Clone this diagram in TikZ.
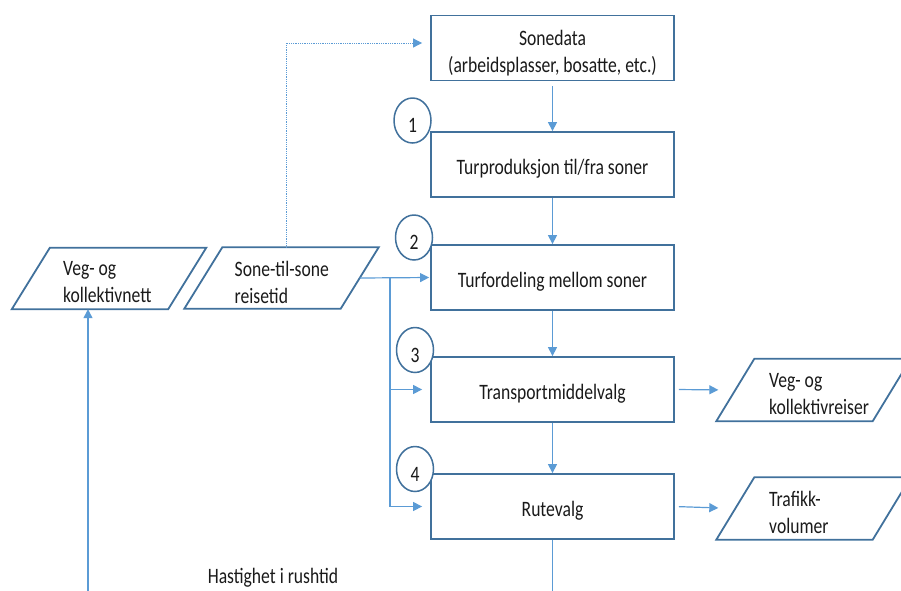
\documentclass[tikz,border=0pt]{standalone}
\usepackage{fontspec}
\setmainfont{Carlito}[FakeStretch=0.8]
\usetikzlibrary{arrows.meta,shapes.geometric}
\definecolor{boxblue}{HTML}{41719C}
\definecolor{linkblue}{HTML}{5B9BD5}
\definecolor{txt}{HTML}{1A1A1A}
\newcommand\iopath[1]{\draw[iodraw] ([xshift=-19pt]#1.south west) -- ([xshift=19pt]#1.north west) -- ([xshift=19pt]#1.north east) -- ([xshift=-19pt]#1.south east) -- cycle;}
\begin{document}
\begin{tikzpicture}[x=1pt,y=-1pt,
  every node/.style={font=\fontsize{22}{27}\selectfont, text=txt},
  stepbox/.style={draw=boxblue, line width=1.8pt, minimum width=243pt, minimum height=65pt, inner sep=0pt, fill=white},
  numcirc/.style={ellipse, draw=boxblue, line width=1.5pt, fill=white, minimum width=37pt, minimum height=45pt, inner sep=0pt},
  iobox/.style={rectangle, minimum width=156pt, minimum height=61pt, inner sep=0pt},
  iodraw/.style={draw=boxblue, line width=1.8pt, line join=miter},
  boxtext/.style={align=center, inner sep=0pt},
  iotext/.style={align=left, inner sep=0pt, anchor=west},
  link/.style={draw=linkblue, line width=1.2pt, -{Triangle[length=9pt,width=9pt]}},
  plainlink/.style={draw=linkblue, line width=1.2pt},
  ]
\useasboundingbox (0,0) rectangle (901,590);

% process boxes
\node[stepbox] (sd) at (552.5,48) {};
\node[stepbox] (b1) at (552.5,164.5) {};
\node[stepbox] (b2) at (552.5,277.5) {};
\node[stepbox] (b3) at (552.5,389.5) {};
\node[stepbox] (b4) at (552.5,506.5) {};
\node[boxtext] (tsd) at ([yshift=-5pt]sd.center) {Sonedata\\(arbeidsplasser, bosatte, etc.)};
\node[boxtext] (tb1) at ([yshift=-4pt]b1.center) {Turproduksjon til/fra soner};
\node[boxtext] (tb2) at ([yshift=-4pt]b2.center) {Turfordeling mellom soner};
\node[boxtext] (tb3) at ([yshift=-4pt]b3.center) {Transportmiddelvalg};
\node[boxtext] (tb4) at ([yshift=-4pt]b4.center) {Rutevalg};

% input/output parallelograms
\node[iobox] (vk) at (109,278.5) {};
\node[iobox] (sts) at (281.5,278) {};
\node[iobox, minimum height=62pt] (r1) at (813.5,390) {};
\node[iobox, minimum height=62pt] (r2) at (813.5,508.5) {};
\iopath{vk}
\iopath{sts}
\iopath{r1}
\iopath{r2}
\node[iotext] (tvk) at ([xshift=-46pt,yshift=-4pt]vk.center) {Veg- og\\kollektivnett};
\node[iotext] (tsts) at ([xshift=-47pt,yshift=-4pt]sts.center) {Sone-til-sone\\reisetid};
\node[iotext] (tr1) at ([xshift=-44.5pt,yshift=-4pt]r1.center) {Veg- og\\kollektivreiser};
\node[iotext] (tr2) at ([xshift=-44.5pt,yshift=-4pt]r2.center) {Trafikk-\\volumer};

% step numbers
\node[numcirc] (c1) at (412.5,120.5) {};
\node[numcirc] (c2) at (414,237.5) {};
\node[numcirc] (c3) at (415,350) {};
\node[numcirc] (c4) at (415,469) {};
\node[boxtext] (n1) at ([yshift=-5pt]c1.center) {1};
\node[boxtext] (n2) at ([yshift=-5pt]c2.center) {2};
\node[boxtext] (n3) at ([yshift=-5pt]c3.center) {3};
\node[boxtext] (n4) at ([yshift=-5pt]c4.center) {4};

% free text
\node (hast) at (273,578) {Hastighet i rushtid};

% helper coordinates
\coordinate (br) at (390,278);
\coordinate (bot) at (552.5,600);
\coordinate (vkbot) at (88,600);

% main chain
\draw[link, shorten <=5pt] (sd.south) -- (b1.north);
\draw[link] (b1.south) -- (b2.north);
\draw[link] (b2.south) -- (b3.north);
\draw[link] (b3.south) -- (b4.north);
\draw[plainlink] (b4.south) -- (b4.south |- bot);

% dotted feedback to zone data
\draw[link, line width=0.8pt, densely dotted, shorten >=8pt] ([xshift=5pt]sts.north) |- ([yshift=5pt]sd.west);

% travel times into steps 2-4
\draw[link, shorten >=1pt] (sts.east) -- (b2.west);
\draw[link, shorten >=8pt] (br) |- (b3.west);
\draw[link, shorten >=8pt] (br) |- (b4.west);

% outputs
\draw[link, shorten <=4pt, shorten >=17pt] (b3.east) -- (r1.west);
\draw[link, shorten <=4pt, shorten >=17pt] (b4.east) -- (r2.west);

% speed feedback into network
\draw[link] (vkbot |- bot) -- (vkbot |- vk.south);
\end{tikzpicture}
\end{document}
